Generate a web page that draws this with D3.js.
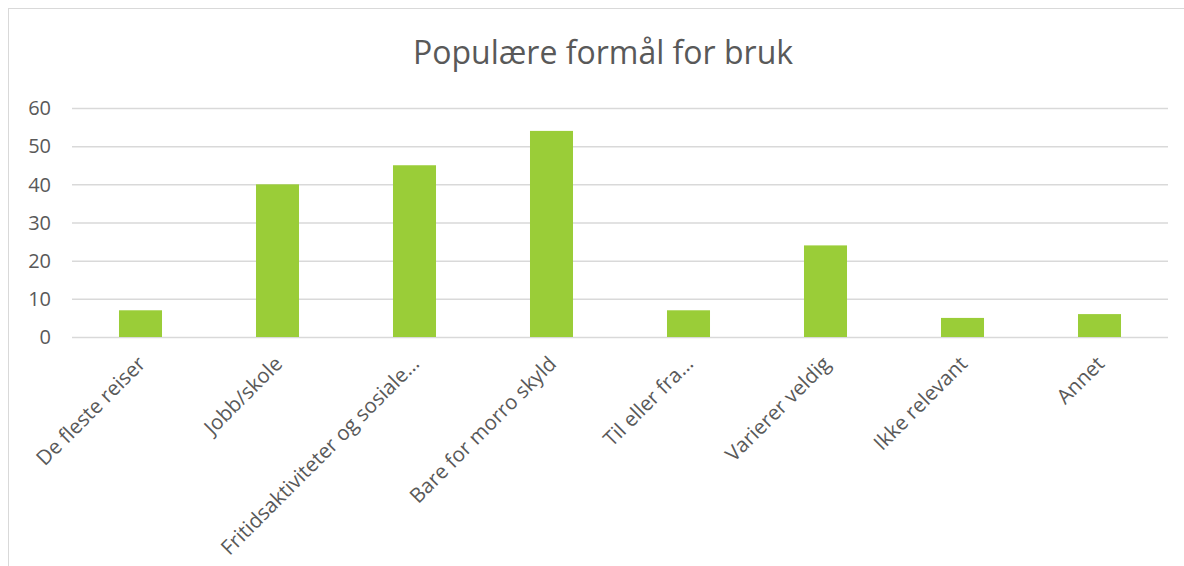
<!DOCTYPE html>
<meta charset="utf-8">
<head>
  <title>Populære formål for bruk</title>
</head>

<style>
body { margin: 0; background: #fff; }
text { font-family: "Open Sans", sans-serif; fill: #595959; }
.grid line { stroke: #d9d9d9; stroke-width: 1.5; }
.grid path { display: none; }
</style>

<body>
  <svg width="1184" height="566"></svg>

  <script src="https://cdnjs.cloudflare.com/ajax/libs/d3/7.8.5/d3.min.js"></script>

  <script>
var width = 1184, height = 566

var categories = ['De fleste reiser', 'Jobb/skole', 'Fritidsaktiviteter og sosiale…',
  'Bare for morro skyld', 'Til eller fra…', 'Varierer veldig', 'Ikke relevant', 'Annet']
var values = [7, 40, 45, 54, 7, 24, 5, 6]
var yTicks = [0, 10, 20, 30, 40, 50, 60]

var margin = {left: 72, right: 16, top: 108, bottom: 229}

var svg = d3.select('svg')

// chart frame
svg.append('rect')
  .attr('x', 8.5).attr('y', 8.5)
  .attr('width', width + 20).attr('height', height + 20)
  .attr('fill', 'none')
  .attr('stroke', '#d9d9d9')

var x = d3.scaleBand()
  .domain(categories)
  .range([margin.left, width - margin.right])
  .paddingInner(0.686)
  .paddingOuter(0.343)

var y = d3.scaleLinear()
  .domain([0, 60])
  .range([height - margin.bottom, margin.top])

// gridlines
svg.append('g')
  .attr('class', 'grid')
  .attr('transform', 'translate(' + margin.left + ',0)')
  .call(d3.axisLeft(y).tickValues(yTicks).tickSize(-(width - margin.left - margin.right)).tickFormat(''))

// y labels
svg.append('g')
  .selectAll('text')
  .data(yTicks)
  .enter()
  .append('text')
  .attr('x', 51)
  .attr('y', function(d) { return y(d) })
  .attr('dy', '0.36em')
  .attr('text-anchor', 'end')
  .style('font-size', '20px')
  .text(function(d) { return d })

// bars
svg.append('g')
  .selectAll('rect')
  .data(values)
  .enter()
  .append('rect')
  .attr('x', function(d, i) { return x(categories[i]) })
  .attr('y', function(d) { return y(d) })
  .attr('width', x.bandwidth())
  .attr('height', function(d) { return y(0) - y(d) })
  .attr('fill', '#9acd38')

// x labels
svg.append('g')
  .selectAll('text')
  .data(categories)
  .enter()
  .append('text')
  .attr('transform', function(d) {
    var cx = x(d) + x.bandwidth() / 2 + 1
    return 'translate(' + cx + ',' + (y(0) + 23) + ') rotate(-45)'
  })
  .attr('text-anchor', 'end')
  .attr('dy', '0.35em')
  .style('font-size', '20.5px')
  .text(function(d) { return d })

// title
svg.append('text')
  .attr('x', 603)
  .attr('y', 64)
  .attr('text-anchor', 'middle')
  .style('font-size', '32px')
  .text('Populære formål for bruk')
  </script>
</body>
</html>
